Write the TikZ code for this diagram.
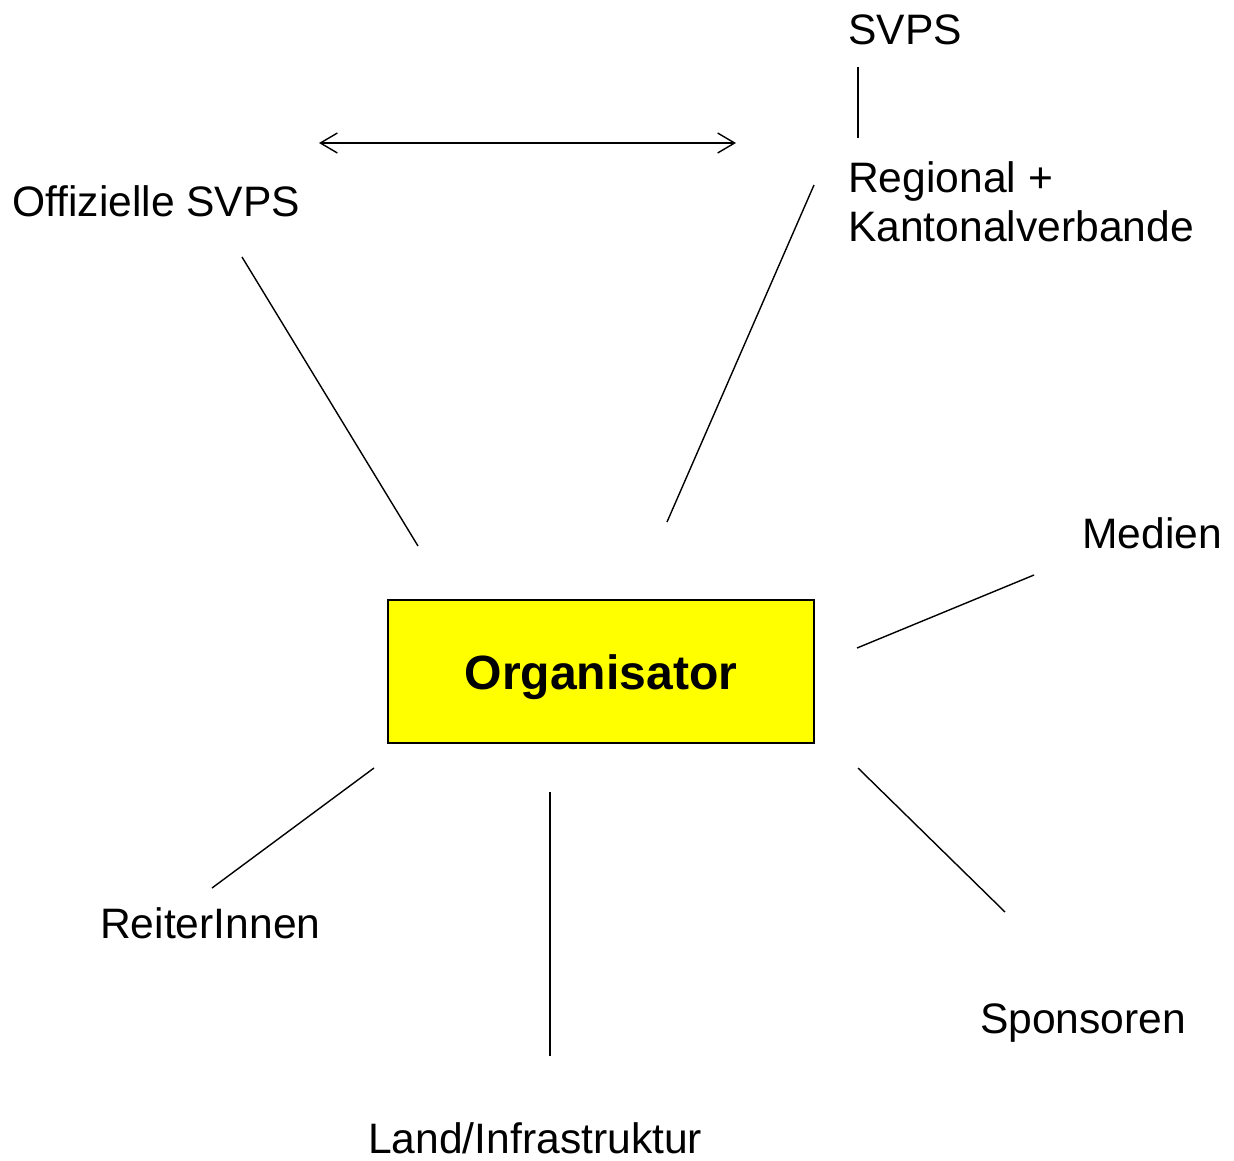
\documentclass[tikz,border=0pt]{standalone}
\usepackage{fontspec}
\setmainfont{Liberation Sans}
\usetikzlibrary{arrows.meta}
\definecolor{boxyellow}{RGB}{255,255,0}
\begin{document}
\begin{tikzpicture}[x=1pt,y=-1pt,
  lbl/.style={anchor=base west,inner sep=0pt,font=\fontsize{42.6}{49}\selectfont},
  conn/.style={draw=black,line width=1.4pt},
  orgbox/.style={draw=black,line width=1.6pt,fill=boxyellow,minimum width=426pt,minimum height=143pt,inner sep=0pt}]
\useasboundingbox (0,0) rectangle (1234,1160);
\node[orgbox] (org) at (601,671.5) {};
\node[anchor=base,inner sep=0pt,font=\fontsize{48.1}{56}\selectfont\bfseries] (orgtext) at (601,689) {Organisator};
\node[lbl] (svps) at (848,44) {SVPS};
\node[lbl,align=left] (regional) at (848,241) {Regional +\\Kantonalverbande};
\node[lbl] (offiz) at (12,216) {Offizielle SVPS};
\node[lbl] (medien) at (1082,548) {Medien};
\node[lbl] (reiter) at (100,938) {ReiterInnen};
\node[lbl] (sponsor) at (980,1033) {Sponsoren};
\node[lbl] (land) at (368,1153) {Land/Infrastruktur};
% connector endpoints
\coordinate (a1) at (319,143); \coordinate (a2) at (736,143);
\coordinate (s1) at (858,67);  \coordinate (s2) at (858,138);
\coordinate (o1) at (242,257); \coordinate (o2) at (418,546);
\coordinate (r1) at (814,185); \coordinate (r2) at (667,522);
\coordinate (m1) at (1034,575); \coordinate (m2) at (857,648);
\coordinate (e1) at (374,768); \coordinate (e2) at (212,888);
\coordinate (l1) at (550,792); \coordinate (l2) at (550,1056);
\coordinate (p1) at (858,768); \coordinate (p2) at (1005,912);
\draw[conn,{Straight Barb[length=17pt,width=20pt]}-{Straight Barb[length=17pt,width=20pt]}] (a1) -- (a2);
\draw[conn] (s1) -- (s2);
\draw[conn] (o1) -- (o2);
\draw[conn] (r1) -- (r2);
\draw[conn] (m1) -- (m2);
\draw[conn] (e1) -- (e2);
\draw[conn] (l1) -- (l2);
\draw[conn] (p1) -- (p2);
\end{tikzpicture}
\end{document}
